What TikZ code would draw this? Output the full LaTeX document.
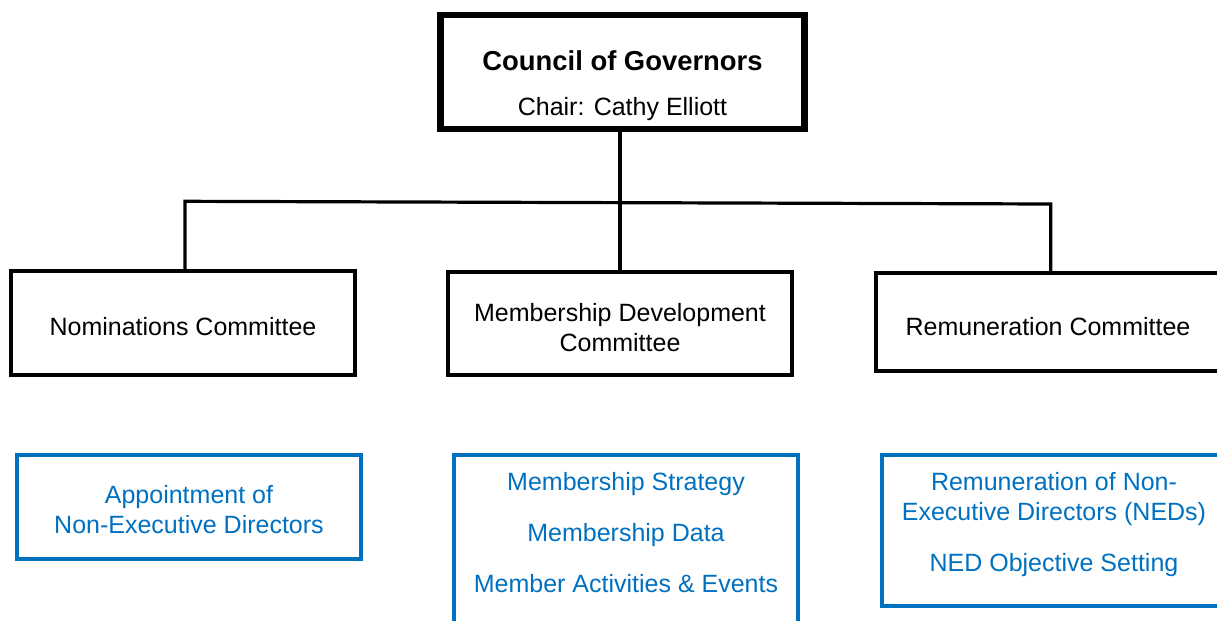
\documentclass[tikz,border=0pt]{standalone}
\usepackage{fontspec}
\setmainfont{Liberation Sans}
\definecolor{orgblue}{RGB}{0,112,192}
\newcommand{\topgap}[1]{\rule{0pt}{#1}}
\newcommand{\botgap}[1]{\rule[-#1]{0pt}{0pt}}
\begin{document}
\begin{tikzpicture}[x=0.5pt,y=-0.5pt,
                    font=\fontsize{12.5}{15}\selectfont,
                    committee/.style={draw,line width=2pt,minimum width=172pt,inner sep=2pt,align=center},
                    remit/.style={committee,draw=orgblue,text=orgblue},
                    link/.style={line width=1.6pt}]
                      \clip (0,0) rectangle (1217,621);
                      \node [draw,line width=3.3pt,minimum width=182pt,minimum height=57pt,inner sep=2pt,align=center]
                            (council) at (622.5,72) {\topgap{23.5pt}{\bfseries\fontsize{13.7}{15}\selectfont Council of Governors}\\[7.5pt]Chair: Cathy Elliott};
                      \node [committee,minimum height=52pt] (nomin) at (183,323) {\topgap{12.5pt}Nominations Committee};
                      \node [committee,minimum height=51.5pt] (memdev) at (620,323.5) {\topgap{13.5pt}Membership Development\\Committee};
                      \node [committee,minimum height=48.75pt] (remun) at (1048,322) {\topgap{13.7pt}Remuneration Committee};
                      \node [remit,minimum height=52pt] (appoint) at (189,507) {\topgap{11.3pt}Appointment of\\Non-Executive Directors};
                      \node [remit,minimum height=84.65pt] (memtasks) at (626,539.4) {Membership Strategy\\[10.5pt]Membership Data\\[10.5pt]Member Activities \& Events\botgap{7.2pt}};
                      \node [remit,minimum height=75.3pt] (remtasks) at (1054,530.7) {Remuneration of Non-\\Executive Directors (NEDs)\\[10.5pt]NED Objective Setting\botgap{9pt}};
                      % fork under the council
                      \coordinate (fork-l) at (185,201.3);
                      \coordinate (fork-r) at (1050.7,204);
                      \draw [link] (council.south -| memdev.north) -- (memdev.north);
                      \draw [link] (fork-l |- nomin.north) -- (fork-l) -- (fork-r) -- (fork-r |- remun.north);
                      \end{tikzpicture}
\end{document}
